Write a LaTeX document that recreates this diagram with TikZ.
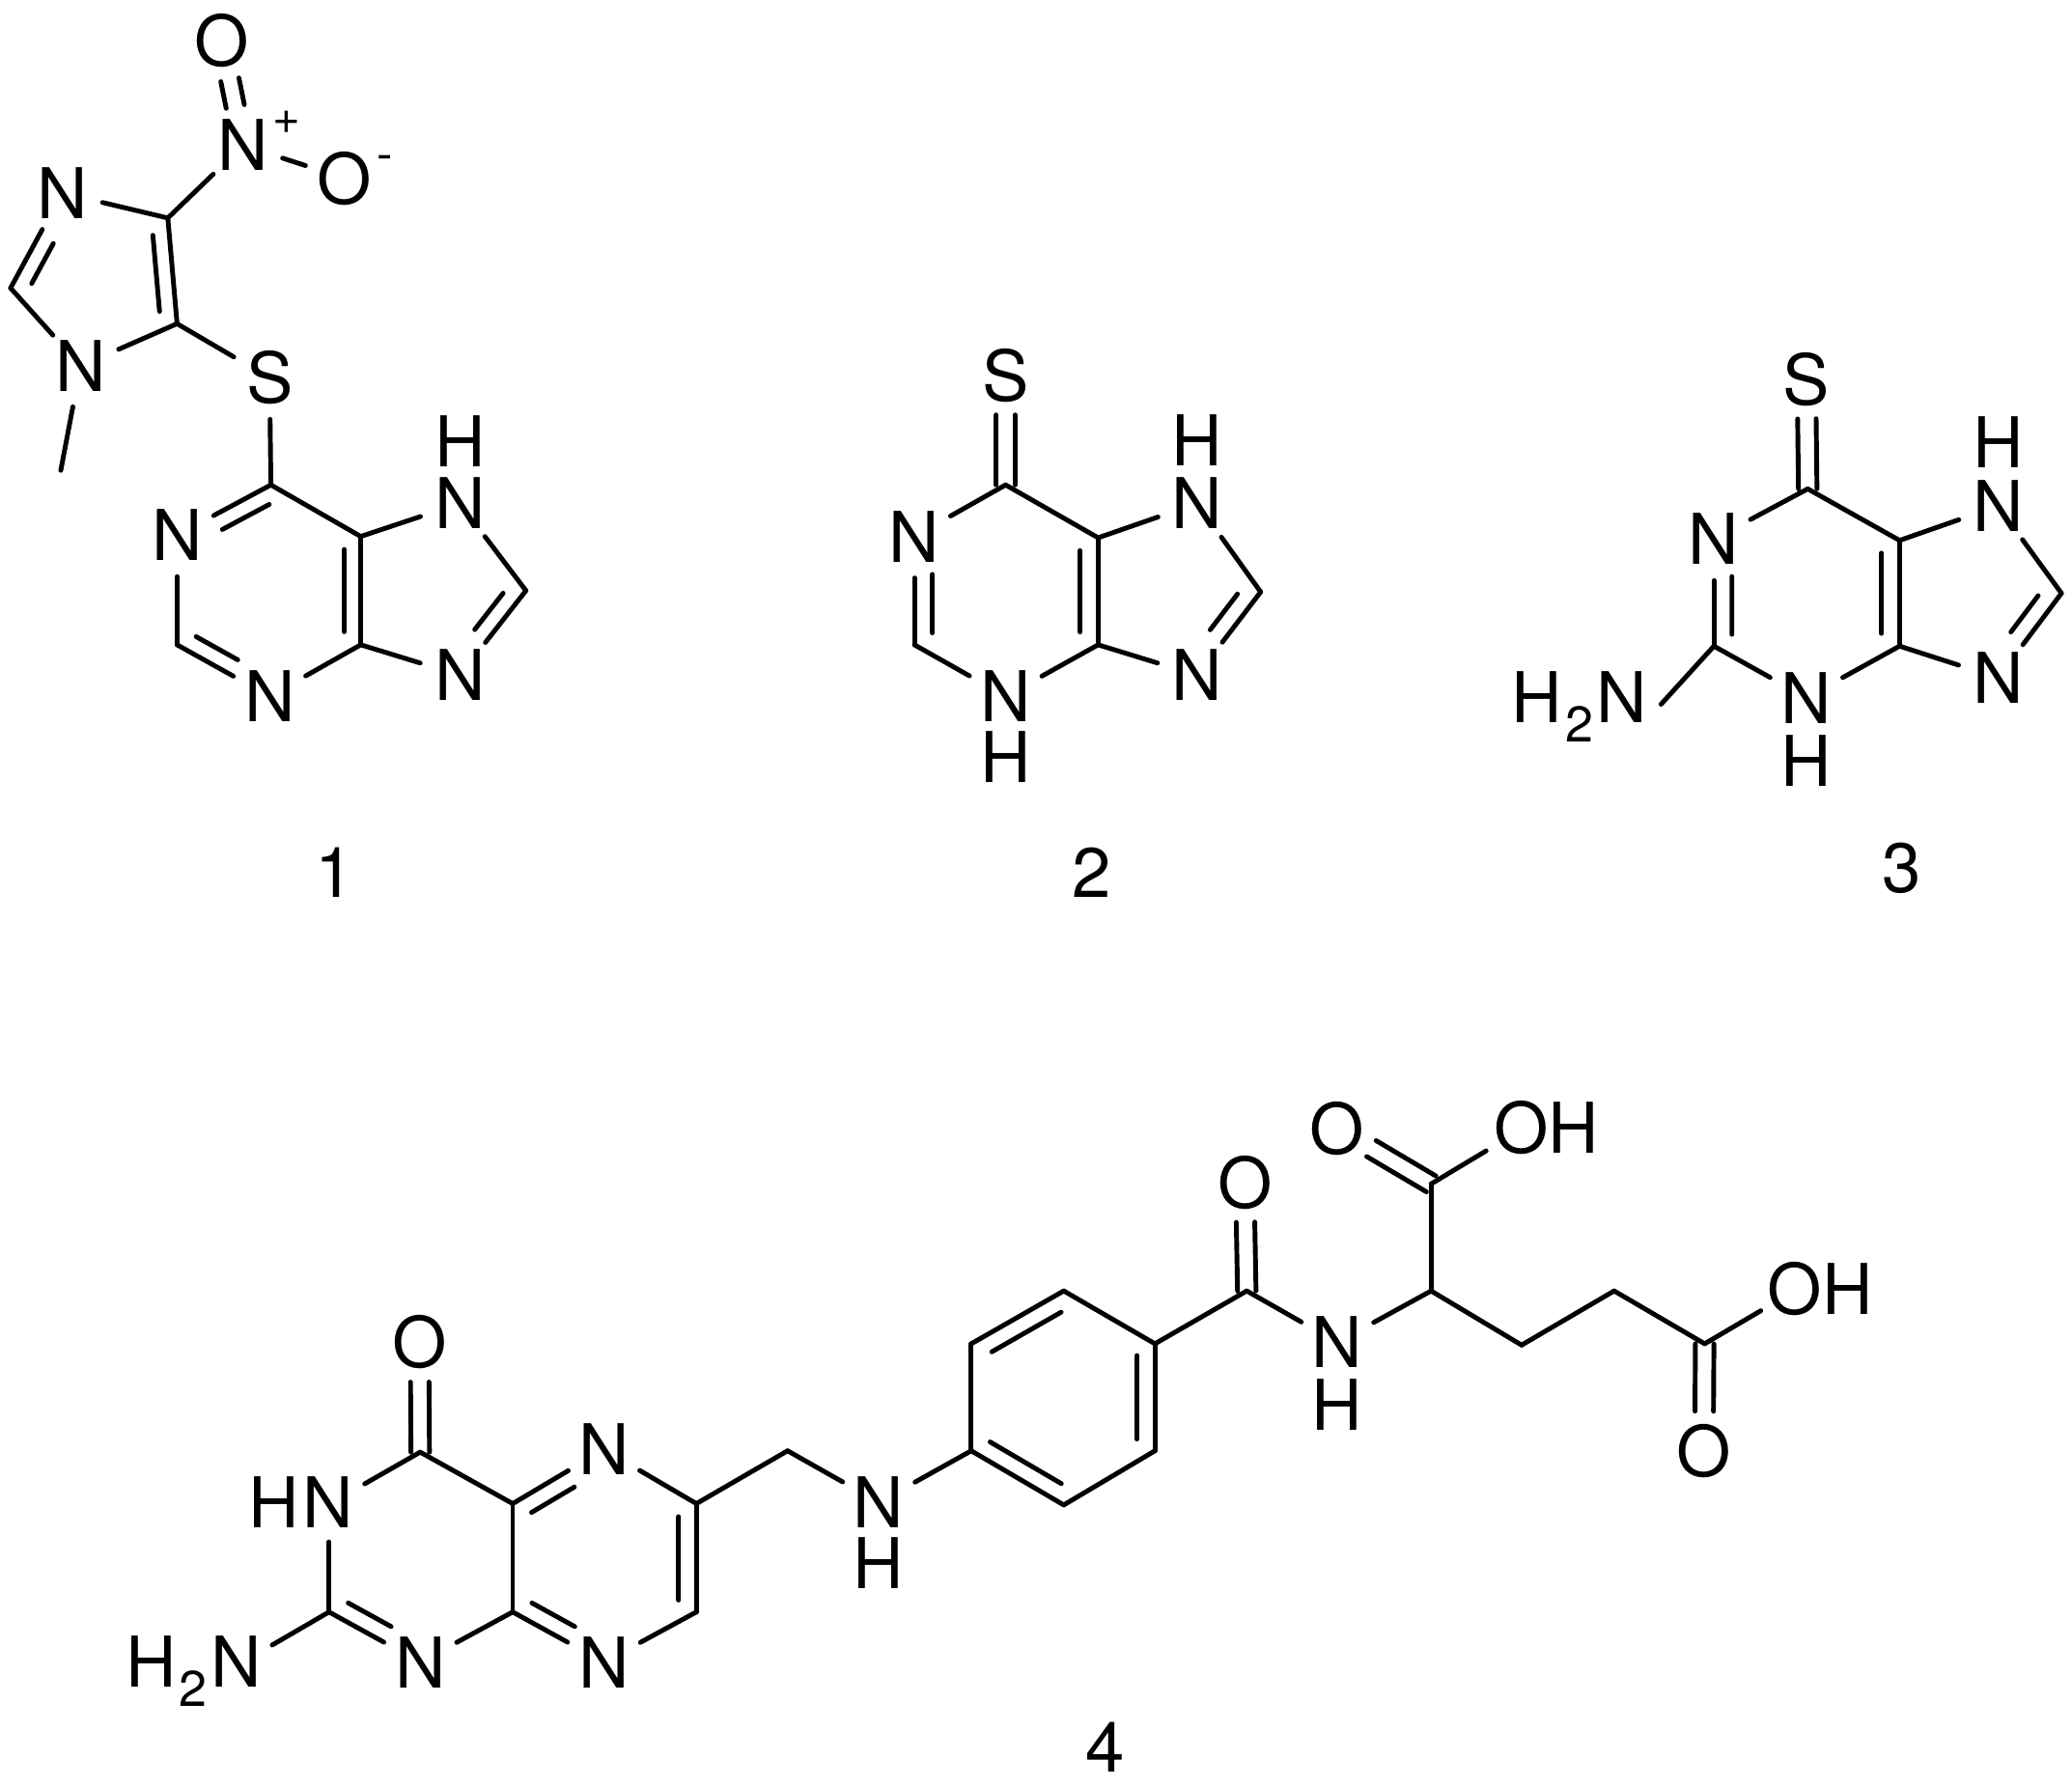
\documentclass[tikz,border=0pt]{standalone}
\usepackage{fontspec}
\setmainfont{TeX Gyre Heros}
\usetikzlibrary{calc}
\tikzset{
  bond/.style={line width=1.8pt,line cap=round,black},
  atom/.style={circle,inner sep=0pt,minimum size=31pt,font=\fontsize{26.5}{26.5}\selectfont,text=black},
  txt/.style={inner sep=0pt,font=\fontsize{26.5}{26.5}\selectfont,text=black},
  chg/.style={inner sep=0pt,font=\fontsize{18}{18}\selectfont,text=black}
}
\newcommand\sng[2]{\draw[bond] (#1) -- (#2);}
\newcommand\dblc[3][0pt]{%
  \draw[bond,shorten <=#1,shorten >=15pt] ($(#2)!3.5pt!90:(#3)$) -- ($(#3)!3.5pt!-90:(#2)$);
  \draw[bond,shorten <=#1,shorten >=15pt] ($(#2)!3.5pt!-90:(#3)$) -- ($(#3)!3.5pt!90:(#2)$);}
\newcommand\dbli[5]{%
  \sng{#1}{#2}
  \draw[bond] ($($(#1)!#3!(#2)$)!#5!90:(#2)$) -- ($($(#1)!#4!(#2)$)!#5!90:(#2)$);}
\newcommand\subtwo{\kern1.2pt\raisebox{-7.3pt}{\fontsize{19}{19}\selectfont 2}\kern1.2pt}
\begin{document}
\begin{tikzpicture}[x=0.5pt,y=-0.5pt]
\useasboundingbox (0,0) rectangle (1568,1352);
% ---------- molecule 1 ----------
\coordinate (aC4) at (127,165);
\coordinate (aC5) at (134,245);
\coordinate (aC2) at (8,218);
\coordinate (aMe) at (46,356);
\node[atom] (aN3) at (47,146) {N};
\node[atom] (aN1) at (61,277) {N};
\node[atom] (aNp) at (184,110) {N};
\node[chg] (aPl) at (217,93) {+};
\node[atom] (aOt) at (168,31) {O};
\node[atom] (aOm) at (261,135) {O};
\node[chg] (aMi) at (291,123) {-};
\node[atom] (aS) at (204,286) {S};
\sng{aN3}{aC4}
\dbli{aC4}{aC5}{.15}{.87}{-6.2pt}
\sng{aC5}{aN1}
\sng{aN1}{aC2}
\dbli{aC2}{aN3}{.13}{.55}{-6.2pt}
\sng{aN1}{aMe}
\sng{aC4}{aNp}
\dblc[15pt]{aNp}{aOt}
\sng{aNp}{aOm}
\sng{aC5}{aS}
\coordinate (bC6) at (205,367);
\coordinate (bC5) at (273,406);
\coordinate (bC4) at (273,488);
\coordinate (bC8) at (398,447);
\coordinate (bC2) at (134,488);
\node[atom] (bN7) at (348,381) {N};
\node[atom] (bH7) at (348,334) {H};
\node[atom] (bN9) at (348,511) {N};
\node[atom] (bN1) at (134,405) {N};
\node[atom] (bN3) at (204,527) {N};
\sng{aS}{bC6}
\dbli{bC6}{bN1}{.10}{.60}{6.2pt}
\sng{bN1}{bC2}
\dbli{bC2}{bN3}{.12}{.57}{6.2pt}
\sng{bN3}{bC4}
\dbli{bC5}{bC4}{.12}{.88}{-6.2pt}
\sng{bC6}{bC5}
\sng{bC5}{bN7}
\sng{bN7}{bC8}
\dbli{bC8}{bN9}{.15}{.58}{-6.2pt}
\sng{bN9}{bC4}
\node[txt] (l1) at (253,660) {1};
% ---------- molecule 2 ----------
\coordinate (cC6) at (761,367);
\coordinate (cC5) at (831,407);
\coordinate (cC4) at (831,488);
\coordinate (cC8) at (954,448);
\coordinate (cC2) at (692,488);
\node[atom] (cS) at (761,284) {S};
\node[atom] (cN7) at (906,381) {N};
\node[atom] (cH7) at (906,333) {H};
\node[atom] (cN9) at (906,511) {N};
\node[atom] (cN1) at (692,406) {N};
\node[atom] (cN3) at (761,527) {N};
\node[atom] (cH3) at (761,573) {H};
\dblc{cC6}{cS}
\sng{cC6}{cN1}
\dbli{cC2}{cN1}{.11}{.65}{-6.8pt}
\sng{cC2}{cN3}
\sng{cN3}{cC4}
\dbli{cC5}{cC4}{.12}{.88}{-6.8pt}
\sng{cC6}{cC5}
\sng{cC5}{cN7}
\sng{cN7}{cC8}
\dbli{cC8}{cN9}{.15}{.58}{-6.5pt}
\sng{cN9}{cC4}
\node[txt] (l2) at (826,660) {2};
% ---------- molecule 3 ----------
\coordinate (dC6) at (1368,370);
\coordinate (dC5) at (1437.5,409);
\coordinate (dC4) at (1437.5,489);
\coordinate (dC8) at (1560,449);
\coordinate (dC2) at (1297,489);
\coordinate (dNa) at (1257,533);
\node[atom] (dS) at (1367,287) {S};
\node[atom] (dN7) at (1512,383) {N};
\node[atom] (dH7) at (1512,335) {H};
\node[atom] (dN9) at (1512,513) {N};
\node[atom] (dN1) at (1297,408) {N};
\node[atom] (dN3) at (1367,528) {N};
\node[atom] (dH3) at (1367,576) {H};
\node[txt,anchor=base east] (dNH) at (1247,547) {H\subtwo N};
\dblc{dC6}{dS}
\sng{dC6}{dN1}
\dbli{dC2}{dN1}{.11}{.65}{-6.8pt}
\sng{dC2}{dN3}
\sng{dC2}{dNa}
\sng{dN3}{dC4}
\dbli{dC5}{dC4}{.12}{.88}{-6.8pt}
\sng{dC6}{dC5}
\sng{dC5}{dN7}
\sng{dN7}{dC8}
\dbli{dC8}{dN9}{.15}{.58}{-6.5pt}
\sng{dN9}{dC4}
\node[txt] (l3) at (1439,657) {3};
% ---------- molecule 4 ----------
\coordinate (eC4) at (318,1099);
\coordinate (eC2) at (249,1220);
\coordinate (eC4a) at (388,1138);
\coordinate (eC8a) at (388,1220);
\coordinate (eC6) at (527,1138);
\coordinate (eC7) at (527,1220);
\coordinate (eCH) at (596,1098);
\coordinate (eHa) at (276,1123);
\coordinate (eHb) at (249,1167);
\coordinate (eNa) at (206,1245);
\node[atom] (eO) at (317.5,1016) {O};
\node[txt,anchor=base east] (eHN) at (268,1156) {H\kern1.5pt N};
\node[txt,anchor=base east] (eNH) at (198,1277) {H\subtwo N};
\node[atom] (eN1) at (318,1258) {N};
\node[atom] (eN5) at (457,1097) {N};
\node[atom] (eN8) at (457,1258) {N};
\node[atom] (eN10) at (665,1137) {N};
\node[atom] (eH10) at (665,1183) {H};
\dblc{eC4}{eO}
\sng{eC4}{eHa}
\sng{eHb}{eC2}
\sng{eC2}{eNa}
\dbli{eC2}{eN1}{.12}{.59}{6.5pt}
\sng{eN1}{eC8a}
\sng{eC4}{eC4a}
\sng{eC4a}{eC8a}
\dbli{eC4a}{eN5}{.11}{.58}{-6.5pt}
\dbli{eC8a}{eN8}{.12}{.59}{6.5pt}
\sng{eN5}{eC6}
\dbli{eC6}{eC7}{.12}{.89}{-6.8pt}
\sng{eN8}{eC7}
\sng{eC6}{eCH}
\sng{eCH}{eN10}
\coordinate (fBL) at (735,1098);
\coordinate (fTL) at (735,1017);
\coordinate (fT) at (805,977);
\coordinate (fTR) at (874,1017);
\coordinate (fBR) at (874,1098);
\coordinate (fB) at (805,1139);
\coordinate (fCO) at (943.5,977);
\coordinate (fCH) at (1083,977);
\coordinate (fCA) at (1083,896);
\coordinate (fC1) at (1151.5,1018);
\coordinate (fC2) at (1221.5,977);
\coordinate (fC3) at (1290,1017);
\coordinate (fOa) at (1124.6,871);
\coordinate (fOb) at (1332.5,992);
\node[atom] (fO) at (942,895) {O};
\node[atom] (fN) at (1012,1016) {N};
\node[atom] (fH) at (1012,1063) {H};
\node[atom] (fO1) at (1012,854) {O};
\node[txt,anchor=base west] (fOH1) at (1130,873) {OH};
\node[txt,anchor=base west] (fOH2) at (1337.4,995) {OH};
\node[atom] (fO2) at (1289.5,1098) {O};
\sng{eN10}{fBL}
\sng{fBL}{fTL}
\dbli{fTL}{fT}{.13}{.88}{-6.5pt}
\sng{fT}{fTR}
\dbli{fTR}{fBR}{.11}{.89}{-6.8pt}
\sng{fBR}{fB}
\dbli{fBL}{fB}{.11}{.88}{6.5pt}
\sng{fTR}{fCO}
\dblc{fCO}{fO}
\sng{fCO}{fN}
\sng{fN}{fCH}
\sng{fCH}{fCA}
\dblc{fCA}{fO1}
\sng{fCA}{fOa}
\sng{fCH}{fC1}
\sng{fC1}{fC2}
\sng{fC2}{fC3}
\sng{fC3}{fOb}
\dblc{fC3}{fO2}
\node[txt] (l4) at (836,1322) {4};
\end{tikzpicture}
\end{document}
